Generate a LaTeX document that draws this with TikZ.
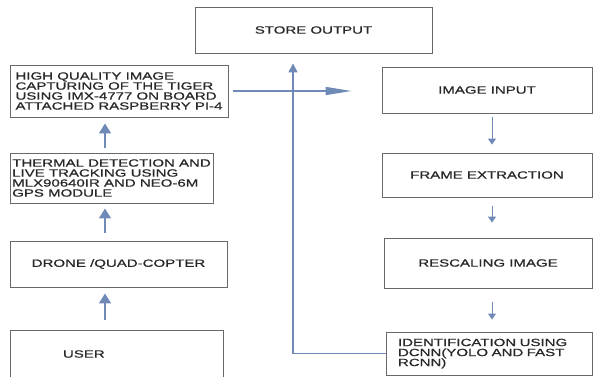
\documentclass[tikz,border=0pt]{standalone}
\usepackage{fontspec}
\newfontfamily\boxfont[FakeStretch=1.43,FakeBold=0.8]{Liberation Sans}
\usetikzlibrary{arrows.meta}
\definecolor{flowblue}{RGB}{112,138,184}
\definecolor{boxgray}{RGB}{105,105,105}
\definecolor{txtgray}{RGB}{40,40,40}

\begin{document}
\begin{tikzpicture}[x=1pt,y=-1pt]
\tikzset{
  stepbox/.style={rectangle,draw=boxgray,line width=0.9pt,inner sep=0pt,text=txtgray,
    font=\boxfont\fontsize{10.5}{10}\selectfont},
  flow/.style={draw=flowblue,line width=1.6pt,-{Triangle[length=10pt,width=12pt]}},
  thinflow/.style={draw=flowblue,line width=1pt,-{Triangle[length=6pt,width=8pt]}},
  loopline/.style={draw=flowblue,line width=1.4pt,line join=miter}
}
\useasboundingbox (0,0) rectangle (593,376);
\clip (0,0) rectangle (593,376);
\node[stepbox,minimum width=237pt,minimum height=46pt] (n_store) at (313.5,30) {STORE OUTPUT};
\node[stepbox,minimum width=218pt,minimum height=52pt,align=left] (n_hq) at (119,91)
  {HIGH QUALITY IMAGE\\CAPTURING OF THE TIGER\\USING IMX-4777 ON BOARD\\ATTACHED RASPBERRY PI-4};
\node[stepbox,minimum width=203pt,minimum height=50pt,align=left] (n_thermal) at (111.5,178)
  {THERMAL DETECTION AND\\LIVE TRACKING USING\\MLX90640IR AND NEO-6M\\GPS MODULE};
\node[stepbox,minimum width=217pt,minimum height=46pt] (n_drone) at (118.5,264) {DRONE /QUAD-COPTER};
\node[stepbox,minimum width=213pt,minimum height=48pt,text width=213pt,align=left] (n_user) at (116.5,354)
  {\hspace*{53pt}USER};
\node[stepbox,minimum width=210pt,minimum height=46pt] (n_input) at (487,90) {IMAGE INPUT};
\node[stepbox,minimum width=210pt,minimum height=44pt] (n_frame) at (487,175) {FRAME EXTRACTION};
\node[stepbox,minimum width=208pt,minimum height=50pt] (n_rescale) at (488,263) {RESCALING IMAGE};
\node[stepbox,minimum width=206pt,minimum height=43pt,text width=182pt,align=left] (n_ident) at (489,353.5)
  {IDENTIFICATION USING\\DCNN(YOLO AND FAST\\RCNN)};
\coordinate (c_left) at (105,0);
\coordinate (c_right) at (492,0);
\coordinate (c_back) at (293,0);
% left column, going up
\draw[flow,shorten <=10pt,shorten >=6pt] (n_user.north -| c_left) -- (n_drone.south -| c_left);
\draw[flow,shorten <=8pt,shorten >=5pt] (n_drone.north -| c_left) -- (n_thermal.south -| c_left);
\draw[flow,shorten <=5pt,shorten >=6pt] (n_thermal.north -| c_left) -- (n_hq.south -| c_left);
% right column, going down
\draw[thinflow,shorten <=4pt,shorten >=8pt] (n_input.south -| c_right) -- (n_frame.north -| c_right);
\draw[thinflow,shorten <=9pt,shorten >=15pt] (n_frame.south -| c_right) -- (n_rescale.north -| c_right);
\draw[thinflow,shorten <=14pt,shorten >=12pt] (n_rescale.south -| c_right) -- (n_ident.north -| c_right);
% hand-over and result loop
\draw[draw=flowblue,line width=1.4pt,-{Triangle[length=26pt,width=8pt]},shorten <=5pt,shorten >=30pt]
  (n_hq.east) -- (n_input.west |- n_hq.east);
\draw[loopline] (n_ident.west) -| (c_back |- 0,140);
\draw[flow,line width=1.4pt,-{Triangle[length=9pt,width=9pt]},shorten >=10pt] (c_back |- 0,140) -- (n_store.south -| c_back);
\end{tikzpicture}
\end{document}
